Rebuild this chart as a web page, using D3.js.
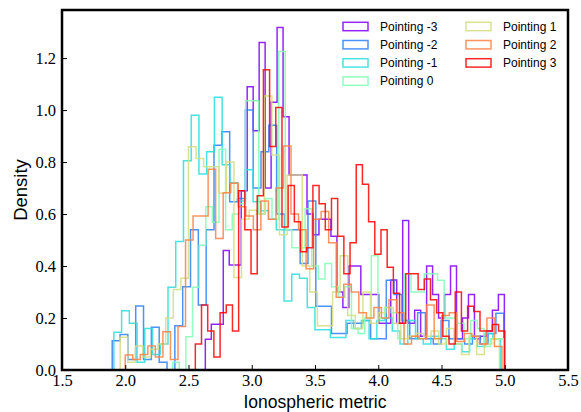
<!doctype html>
<html>
	<head>
		<meta charset="UTF-8">
		<title>Ionospheric metric</title>
		<script src="https://d3js.org/d3.v7.min.js"></script>
		<style>
			body { margin: 0; background: #ffffff; }
		</style>
	</head>
	<body>
		<script>

// -------------------------------------- data

		var labels = ["Pointing -3", "Pointing -2", "Pointing -1", "Pointing 0", "Pointing 1", "Pointing 2", "Pointing 3"];

		// first and last bin edge of each histogram (50 bins each)
		var binStart = [2.633, 1.897, 1.910, 2.375, 1.960, 2.000, 2.554];
		var binEnd   = [4.997, 4.992, 4.967, 4.992, 4.958, 4.978, 5.000];

		var densM3 = [0.118, 0.176, 0.176, 0.46, 0.404, 0.404, 0.69, 1.09, 0.92, 1.26,
			0.70, 1.03, 1.318, 0.974, 0.75, 0.75, 0.75, 0.60, 0.52, 0.58,
			0.58, 0.515, 0.30, 0.24, 0.40, 0.40, 0.29, 0.29, 0.29, 0.18,
			0.18, 0.346, 0.18, 0.575, 0.18, 0.23, 0.13, 0.40, 0.29, 0.20,
			0.29, 0.40, 0.12, 0.20, 0.29, 0.12, 0.13, 0.15, 0.23, 0.29];

		var densM2 = [0.113, 0.137, 0.04, 0.246, 0.04, 0.164, 0.03, 0.0, 0.17, 0.32,
			0.54, 0.25, 0.54, 0.865, 0.917, 0.647, 0.66, 1.0, 0.70, 0.84,
			0.942, 0.60, 0.54, 0.54, 0.41, 0.65, 0.245, 0.245, 0.14, 0.14,
			0.18, 0.18, 0.19, 0.12, 0.12, 0.345, 0.29, 0.19, 0.12, 0.22,
			0.12, 0.10, 0.19, 0.12, 0.12, 0.10, 0.13, 0.10, 0.14, 0.218];

		var densM1 = [0.145, 0.228, 0.18, 0.03, 0.16, 0.06, 0.10, 0.318, 0.494, 0.805,
			0.98, 0.754, 0.84, 1.049, 0.79, 0.72, 0.65, 0.77, 0.647, 0.613,
			0.58, 0.54, 0.265, 0.368, 0.353, 0.24, 0.155, 0.155, 0.125, 0.125,
			0.19, 0.16, 0.19, 0.12, 0.19, 0.20, 0.15, 0.10, 0.19, 0.12,
			0.10, 0.13, 0.12, 0.08, 0.10, 0.07, 0.12, 0.09, 0.14, 0.12];

		var densP0 = [0.03, 0.0, 0.128, 0.318, 0.48, 0.628, 0.568, 0.849, 0.54, 0.60,
			0.64, 1.036, 1.036, 0.60, 0.66, 0.58, 1.225, 0.54, 0.47, 0.47,
			0.62, 0.40, 0.35, 0.41, 0.32, 0.28, 0.32, 0.16, 0.14, 0.20,
			0.44, 0.20, 0.24, 0.22, 0.12, 0.37, 0.30, 0.30, 0.37, 0.37,
			0.345, 0.20, 0.20, 0.18, 0.12, 0.19, 0.16, 0.09, 0.12, 0.12];

		var densP1 = [0.126, 0.03, 0.092, 0.05, 0.08, 0.10, 0.20, 0.31, 0.353, 0.859,
			0.814, 0.782, 0.782, 0.68, 0.80, 0.356, 0.58, 0.615, 0.60, 1.054,
			0.827, 0.52, 0.75, 0.75, 0.40, 0.30, 0.17, 0.17, 0.30, 0.44,
			0.21, 0.16, 0.30, 0.18, 0.22, 0.24, 0.18, 0.12, 0.13, 0.14,
			0.13, 0.15, 0.10, 0.16, 0.10, 0.06, 0.13, 0.06, 0.10, 0.12];

		var densP2 = [0.058, 0.04, 0.06, 0.092, 0.05, 0.147, 0.04, 0.167, 0.50, 0.592,
			0.592, 0.772, 0.506, 0.682, 0.718, 0.628, 0.592, 0.54, 0.65, 0.58,
			0.70, 0.862, 0.60, 0.54, 0.39, 0.58, 0.61, 0.49, 0.28, 0.33,
			0.30, 0.22, 0.20, 0.24, 0.20, 0.27, 0.22, 0.10, 0.13, 0.12,
			0.25, 0.12, 0.21, 0.22, 0.11, 0.14, 0.13, 0.10, 0.20, 0.09];

		var densP3 = [0.10, 0.25, 0.15, 0.05, 0.22, 0.25, 0.15, 0.69, 0.54, 0.37,
			0.67, 1.155, 0.86, 1.01, 0.55, 0.71, 0.57, 0.455, 0.47, 0.71,
			0.64, 0.54, 0.66, 0.515, 0.37, 0.49, 0.79, 0.715, 0.57, 0.445,
			0.54, 0.395, 0.295, 0.18, 0.37, 0.37, 0.31, 0.35, 0.27, 0.22,
			0.13, 0.10, 0.30, 0.15, 0.245, 0.225, 0.15, 0.15, 0.175, 0.15];

		var densities = [densM3, densM2, densM1, densP0, densP1, densP2, densP3];

		var xTicks = [1.5, 2.0, 2.5, 3.0, 3.5, 4.0, 4.5, 5.0, 5.5];
		var yTicks = [0.0, 0.2, 0.4, 0.6, 0.8, 1.0, 1.2];

// -------------------------------------- colors (rainbow colormap)

		var colors = ["#8000ff", "#2b80f6", "#2bdddd", "#80ffb4", "#d4dd80", "#ff8042", "#ff0000"];

// -------------------------------------- main settings

		var margin = { top: 10, right: 13, bottom: 42, left: 62 },
			width = 581 - margin.left - margin.right,
			height = 412 - margin.top - margin.bottom;

		var svg = d3.select("body").append("svg")
			.attr("width", 581)
			.attr("height", 412)
			.style("display", "block");

		var g = svg.append("g")
			.attr("transform", "translate(" + margin.left + "," + margin.top + ")");

// -------------------------------------- scales

		var x = d3.scaleLinear().domain([1.5, 5.5]).range([0, width]);
		var y = d3.scaleLinear().domain([0, 1.385]).range([height, 0]);

		g.append("clipPath").attr("id", "clip")
			.append("rect").attr("width", width).attr("height", height);

// -------------------------------------- step histograms

		var line = d3.line()
			.x(d => x(d[0]))
			.y(d => y(d[1]));

		function stepPoints(k) {
			var vals = densities[k];
			var n = vals.length;
			var w = (binEnd[k] - binStart[k]) / n;
			var pts = [[binStart[k], 0]];
			vals.forEach(function(v, i) {
				pts.push([binStart[k] + i * w, v]);
				pts.push([binStart[k] + (i + 1) * w, v]);
			});
			pts.push([binEnd[k], 0]);
			return pts;
		}

		g.append("g").attr("clip-path", "url(#clip)")
			.selectAll("path.hist")
			.data(d3.range(labels.length))
			.enter().append("path")
			.attr("class", "hist")
			.attr("d", k => line(stepPoints(k)))
			.style("fill", "none")
			.style("stroke", k => colors[k])
			.style("stroke-width", 1.5)
			.style("stroke-opacity", 0.85)
			.style("stroke-linejoin", "miter");

// -------------------------------------- axes

		var xAxis = d3.axisBottom(x).tickValues(xTicks)
			.tickFormat(d3.format(".1f")).tickSizeInner(-5).tickSizeOuter(0).tickPadding(4);
		var yAxis = d3.axisLeft(y).tickValues(yTicks)
			.tickFormat(d3.format(".1f")).tickSizeInner(-5).tickSizeOuter(0).tickPadding(6);

		var gx = g.append("g").attr("transform", "translate(0," + height + ")").call(xAxis);
		var gy = g.append("g").call(yAxis);

		[gx, gy].forEach(function(a) {
			a.select(".domain").remove();
			a.selectAll("line").style("stroke", "#000").style("stroke-width", 1);
			a.selectAll("text")
				.style("font-family", "'Liberation Serif', serif")
				.style("font-size", "16.5px")
				.style("fill", "#000");
		});

		// frame
		g.append("rect")
			.attr("width", width)
			.attr("height", height)
			.style("fill", "none")
			.style("stroke", "#000")
			.style("stroke-width", 2.5);

		// axis labels
		svg.append("text")
			.text("Ionospheric metric")
			.attr("x", margin.left + width / 2)
			.attr("y", 408)
			.attr("text-anchor", "middle")
			.style("font-family", "'Liberation Sans', sans-serif")
			.style("font-size", "17.5px");

		svg.append("text")
			.text("Density")
			.attr("transform", "translate(27," + (margin.top + height / 2) + ") rotate(-90)")
			.attr("text-anchor", "middle")
			.style("font-family", "'Liberation Sans', sans-serif")
			.style("font-size", "18.5px");

// -------------------------------------- legend

		var legend = svg.append("g").attr("class", "legend");

		var entries = legend.selectAll("g.entry")
			.data(d3.range(labels.length))
			.enter().append("g")
			.attr("class", "entry")
			.attr("transform", k => "translate(" + (k < 4 ? 343 : 466) + "," + (26.5 + (k % 4) * 18.2) + ")");

		entries.append("rect")
			.attr("x", 0).attr("y", -4.2)
			.attr("width", 25).attr("height", 8.4)
			.style("fill", "none")
			.style("stroke", k => colors[k])
			.style("stroke-width", 1.5)
			.style("stroke-opacity", 0.85);

		entries.append("text")
			.text(k => labels[k])
			.attr("x", 37)
			.attr("y", 4)
			.style("font-family", "'Liberation Sans', sans-serif")
			.style("font-size", "12px")
			.style("fill", "#000");

		</script>
	</body>
</html>
